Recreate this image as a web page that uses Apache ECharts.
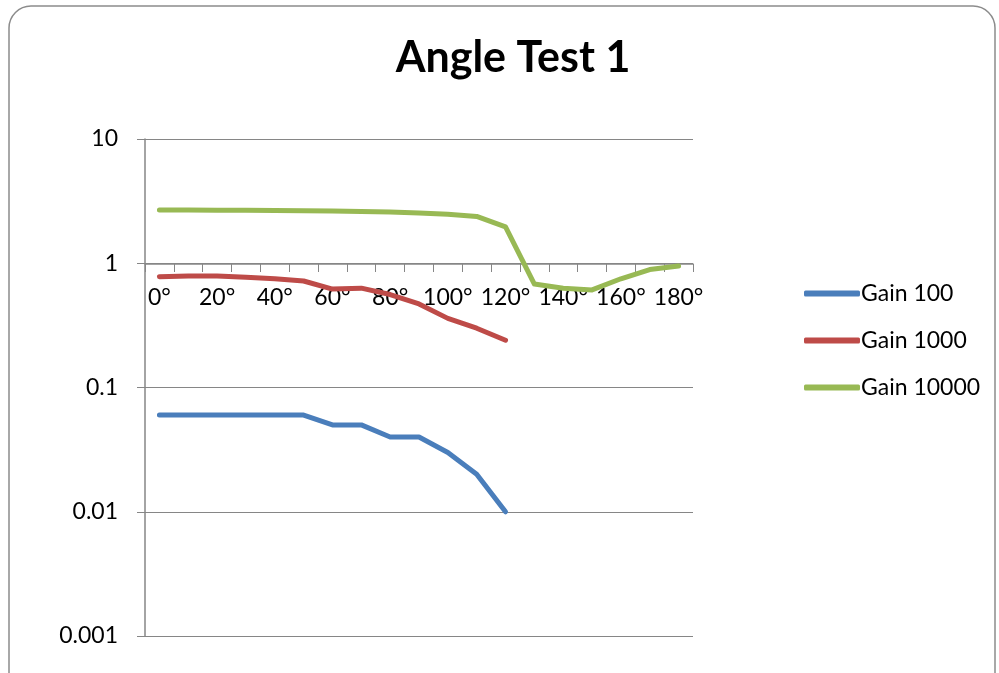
<!DOCTYPE html>
<html><head><meta charset="utf-8">
<script src="https://cdn.jsdelivr.net/npm/echarts@6/dist/echarts.min.js"></script>
<style>html,body{margin:0;padding:0;background:#fff}#c{width:999px;height:673px}</style>
</head><body><div id="c"></div>
<script>
const categories = ['0°','10°','20°','30°','40°','50°','60°','70°','80°','90°','100°','110°','120°','130°','140°','150°','160°','170°','180°'];
const gain100 = [0.06,0.06,0.06,0.06,0.06,0.06,0.05,0.05,0.04,0.04,0.03,0.02,0.01,null,null,null,null,null,null];
const gain1000 = [0.78,0.79,0.79,0.77,0.75,0.72,0.62,0.63,0.56,0.47,0.36,0.30,0.24,null,null,null,null,null,null];
const gain10000 = [2.68,2.68,2.67,2.67,2.66,2.65,2.63,2.61,2.58,2.54,2.48,2.38,1.96,0.68,0.63,0.61,0.75,0.89,0.95];
const yTicks = ['0.001','0.01','0.1','1','10'];

const chart = echarts.init(document.getElementById('c'));
const font = 'Lato, "Open Sans", sans-serif';
function mk(name, data, color){
  return {name, type:'line', data, symbol:'none', connectNulls:false, z:5,
    lineStyle:{width:5, color, cap:'round', join:'round'}, itemStyle:{color}};
}
chart.setOption({
  animation:false,
  title:{text:'Angle Test 1', left:508, top:32, textAlign:'center',
    textStyle:{fontFamily:font, fontSize:43, fontWeight:'bold', color:'#000'}},
  graphic:[{type:'rect', shape:{x:9, y:6, width:986, height:700, r:22},
    style:{fill:'none', stroke:'#8c8c8c', lineWidth:1.5}, silent:true}],
  legend:{orient:'vertical', left:799, top:277, itemGap:24, itemWidth:56, itemHeight:6,
    icon:'roundRect', textStyle:{fontFamily:font, fontSize:23, color:'#000', padding:[0,0,0,-4]},
    data:['Gain 100','Gain 1000','Gain 10000']},
  grid:{left:145, right:306, top:139, bottom:37},
  xAxis:{type:'category', data:categories, boundaryGap:true, offset:-372,
    axisLine:{lineStyle:{color:'#868686', width:1.5}},
    axisTick:{show:true, interval:0, length:8, lineStyle:{color:'#868686'}},
    axisLabel:{interval:1, margin:22, fontFamily:font, fontSize:23, color:'#000'},
    splitLine:{show:false}},
  yAxis:{type:'log', logBase:10, min:0.001, max:10,
    axisLine:{show:true, lineStyle:{color:'#868686', width:1.5}},
    axisTick:{show:true, length:8, lineStyle:{color:'#868686'}},
    axisLabel:{margin:27, fontFamily:font, fontSize:23, color:'#000',
      formatter:v=>{const e=Math.round(Math.log10(v)); return yTicks[e+3];}},
    splitLine:{show:true, lineStyle:{color:'#868686', width:1.2}}},
  series:[mk('Gain 100',gain100,'#4A7EBB'), mk('Gain 1000',gain1000,'#BE4B48'), mk('Gain 10000',gain10000,'#98B954')]
});
</script></body></html>
